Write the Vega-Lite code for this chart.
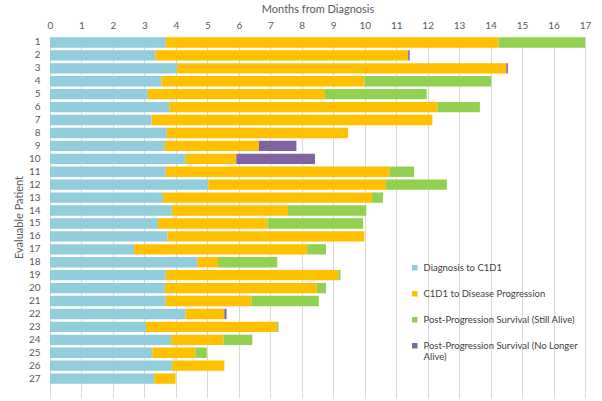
{
  "$schema": "https://vega.github.io/schema/vega-lite/v6.json",
  "width": 535,
  "height": 362,
  "autosize": {"type": "none"},
  "padding": {"left": 50, "top": 36, "right": 17, "bottom": 3},
  "config": {
    "view": {"stroke": null},
    "font": "Lato",
    "axis": {"labelColor": "#595959", "titleColor": "#595959", "titleFontWeight": "normal", "labelFont": "Lato", "titleFont": "Lato"}
  },
  "data": {
    "values": [
      {"p": "1", "s": "Diagnosis to C1D1", "o": 1, "v": 3.68},
      {"p": "1", "s": "C1D1 to Disease Progression", "o": 2, "v": 10.58},
      {"p": "1", "s": "Post-Progression Survival (Still Alive)", "o": 3, "v": 2.74},
      {"p": "2", "s": "Diagnosis to C1D1", "o": 1, "v": 3.35},
      {"p": "2", "s": "C1D1 to Disease Progression", "o": 2, "v": 8.03},
      {"p": "2", "s": "Post-Progression Survival (No Longer Alive)", "o": 4, "v": 0.05},
      {"p": "3", "s": "Diagnosis to C1D1", "o": 1, "v": 4.04},
      {"p": "3", "s": "C1D1 to Disease Progression", "o": 2, "v": 10.46},
      {"p": "3", "s": "Post-Progression Survival (No Longer Alive)", "o": 4, "v": 0.05},
      {"p": "4", "s": "Diagnosis to C1D1", "o": 1, "v": 3.54},
      {"p": "4", "s": "C1D1 to Disease Progression", "o": 2, "v": 6.45},
      {"p": "4", "s": "Post-Progression Survival (Still Alive)", "o": 3, "v": 4.03},
      {"p": "5", "s": "Diagnosis to C1D1", "o": 1, "v": 3.11},
      {"p": "5", "s": "C1D1 to Disease Progression", "o": 2, "v": 5.63},
      {"p": "5", "s": "Post-Progression Survival (Still Alive)", "o": 3, "v": 3.23},
      {"p": "6", "s": "Diagnosis to C1D1", "o": 1, "v": 3.79},
      {"p": "6", "s": "C1D1 to Disease Progression", "o": 2, "v": 8.53},
      {"p": "6", "s": "Post-Progression Survival (Still Alive)", "o": 3, "v": 1.34},
      {"p": "7", "s": "Diagnosis to C1D1", "o": 1, "v": 3.23},
      {"p": "7", "s": "C1D1 to Disease Progression", "o": 2, "v": 8.92},
      {"p": "8", "s": "Diagnosis to C1D1", "o": 1, "v": 3.71},
      {"p": "8", "s": "C1D1 to Disease Progression", "o": 2, "v": 5.76},
      {"p": "9", "s": "Diagnosis to C1D1", "o": 1, "v": 3.65},
      {"p": "9", "s": "C1D1 to Disease Progression", "o": 2, "v": 2.99},
      {"p": "9", "s": "Post-Progression Survival (No Longer Alive)", "o": 4, "v": 1.19},
      {"p": "10", "s": "Diagnosis to C1D1", "o": 1, "v": 4.30},
      {"p": "10", "s": "C1D1 to Disease Progression", "o": 2, "v": 1.62},
      {"p": "10", "s": "Post-Progression Survival (No Longer Alive)", "o": 4, "v": 2.50},
      {"p": "11", "s": "Diagnosis to C1D1", "o": 1, "v": 3.68},
      {"p": "11", "s": "C1D1 to Disease Progression", "o": 2, "v": 7.12},
      {"p": "11", "s": "Post-Progression Survival (Still Alive)", "o": 3, "v": 0.77},
      {"p": "12", "s": "Diagnosis to C1D1", "o": 1, "v": 5.03},
      {"p": "12", "s": "C1D1 to Disease Progression", "o": 2, "v": 5.65},
      {"p": "12", "s": "Post-Progression Survival (Still Alive)", "o": 3, "v": 1.93},
      {"p": "13", "s": "Diagnosis to C1D1", "o": 1, "v": 3.59},
      {"p": "13", "s": "C1D1 to Disease Progression", "o": 2, "v": 6.64},
      {"p": "13", "s": "Post-Progression Survival (Still Alive)", "o": 3, "v": 0.35},
      {"p": "14", "s": "Diagnosis to C1D1", "o": 1, "v": 3.87},
      {"p": "14", "s": "C1D1 to Disease Progression", "o": 2, "v": 3.69},
      {"p": "14", "s": "Post-Progression Survival (Still Alive)", "o": 3, "v": 2.49},
      {"p": "15", "s": "Diagnosis to C1D1", "o": 1, "v": 3.43},
      {"p": "15", "s": "C1D1 to Disease Progression", "o": 2, "v": 3.48},
      {"p": "15", "s": "Post-Progression Survival (Still Alive)", "o": 3, "v": 3.04},
      {"p": "16", "s": "Diagnosis to C1D1", "o": 1, "v": 3.73},
      {"p": "16", "s": "C1D1 to Disease Progression", "o": 2, "v": 6.26},
      {"p": "17", "s": "Diagnosis to C1D1", "o": 1, "v": 2.67},
      {"p": "17", "s": "C1D1 to Disease Progression", "o": 2, "v": 5.50},
      {"p": "17", "s": "Post-Progression Survival (Still Alive)", "o": 3, "v": 0.60},
      {"p": "18", "s": "Diagnosis to C1D1", "o": 1, "v": 4.68},
      {"p": "18", "s": "C1D1 to Disease Progression", "o": 2, "v": 0.66},
      {"p": "18", "s": "Post-Progression Survival (Still Alive)", "o": 3, "v": 1.88},
      {"p": "19", "s": "Diagnosis to C1D1", "o": 1, "v": 3.68},
      {"p": "19", "s": "C1D1 to Disease Progression", "o": 2, "v": 5.48},
      {"p": "19", "s": "Post-Progression Survival (Still Alive)", "o": 3, "v": 0.07},
      {"p": "20", "s": "Diagnosis to C1D1", "o": 1, "v": 3.65},
      {"p": "20", "s": "C1D1 to Disease Progression", "o": 2, "v": 4.83},
      {"p": "20", "s": "Post-Progression Survival (Still Alive)", "o": 3, "v": 0.29},
      {"p": "21", "s": "Diagnosis to C1D1", "o": 1, "v": 3.68},
      {"p": "21", "s": "C1D1 to Disease Progression", "o": 2, "v": 2.72},
      {"p": "21", "s": "Post-Progression Survival (Still Alive)", "o": 3, "v": 2.14},
      {"p": "22", "s": "Diagnosis to C1D1", "o": 1, "v": 4.30},
      {"p": "22", "s": "C1D1 to Disease Progression", "o": 2, "v": 1.24},
      {"p": "22", "s": "Post-Progression Survival (No Longer Alive)", "o": 4, "v": 0.07},
      {"p": "23", "s": "Diagnosis to C1D1", "o": 1, "v": 3.05},
      {"p": "23", "s": "C1D1 to Disease Progression", "o": 2, "v": 4.16},
      {"p": "23", "s": "Post-Progression Survival (Still Alive)", "o": 3, "v": 0.05},
      {"p": "24", "s": "Diagnosis to C1D1", "o": 1, "v": 3.85},
      {"p": "24", "s": "C1D1 to Disease Progression", "o": 2, "v": 1.66},
      {"p": "24", "s": "Post-Progression Survival (Still Alive)", "o": 3, "v": 0.92},
      {"p": "25", "s": "Diagnosis to C1D1", "o": 1, "v": 3.25},
      {"p": "25", "s": "C1D1 to Disease Progression", "o": 2, "v": 1.37},
      {"p": "25", "s": "Post-Progression Survival (Still Alive)", "o": 3, "v": 0.36},
      {"p": "26", "s": "Diagnosis to C1D1", "o": 1, "v": 3.87},
      {"p": "26", "s": "C1D1 to Disease Progression", "o": 2, "v": 1.67},
      {"p": "27", "s": "Diagnosis to C1D1", "o": 1, "v": 3.31},
      {"p": "27", "s": "C1D1 to Disease Progression", "o": 2, "v": 0.68}
    ]
  },
  "mark": {"type": "bar"},
  "encoding": {
    "y": {
      "field": "p",
      "type": "nominal",
      "scale": {
        "domain": ["1","2","3","4","5","6","7","8","9","10","11","12","13","14","15","16","17","18","19","20","21","22","23","24","25","26","27"," "],
        "paddingInner": 0.2,
        "paddingOuter": 0.1
      },
      "axis": {
        "title": "Evaluable Patient",
        "titleFontSize": 11,
        "titlePadding": 4,
        "labelFontSize": 10,
        "labelPadding": 10,
        "ticks": false,
        "domain": false,
        "grid": false
      }
    },
    "x": {
      "field": "v",
      "type": "quantitative",
      "stack": "zero",
      "scale": {"domain": [0, 17], "nice": false},
      "axis": {
        "orient": "top",
        "title": "Months from Diagnosis",
        "titleFontSize": 11,
        "titlePadding": 6,
        "labelFontSize": 10,
        "labelPadding": 6,
        "values": [0,1,2,3,4,5,6,7,8,9,10,11,12,13,14,15,16,17],
        "ticks": false,
        "domain": false,
        "grid": true,
        "gridColor": "#D9D9D9",
        "labelFlush": false
      }
    },
    "order": {"field": "o", "type": "quantitative"},
    "color": {
      "field": "s",
      "type": "nominal",
      "scale": {
        "domain": ["Diagnosis to C1D1", "C1D1 to Disease Progression", "Post-Progression Survival (Still Alive)", "Post-Progression Survival (No Longer Alive)"],
        "range": ["#92CDDC", "#FFC000", "#92D050", "#8064A2"]
      },
      "legend": {
        "title": null,
        "orient": "none",
        "legendX": 360,
        "legendY": 227,
        "symbolType": "square",
        "symbolSize": 30,
        "symbolStrokeWidth": 0,
        "labelFont": "Lato",
        "labelFontSize": 9.5,
        "labelColor": "#404040",
        "labelLimit": 300,
        "rowPadding": 15,
        "labelOffset": 4,
        "labelExpr": "datum.label == 'Post-Progression Survival (No Longer Alive)' ? ['Post-Progression Survival (No Longer', 'Alive)'] : datum.label"
      }
    }
  }
}
